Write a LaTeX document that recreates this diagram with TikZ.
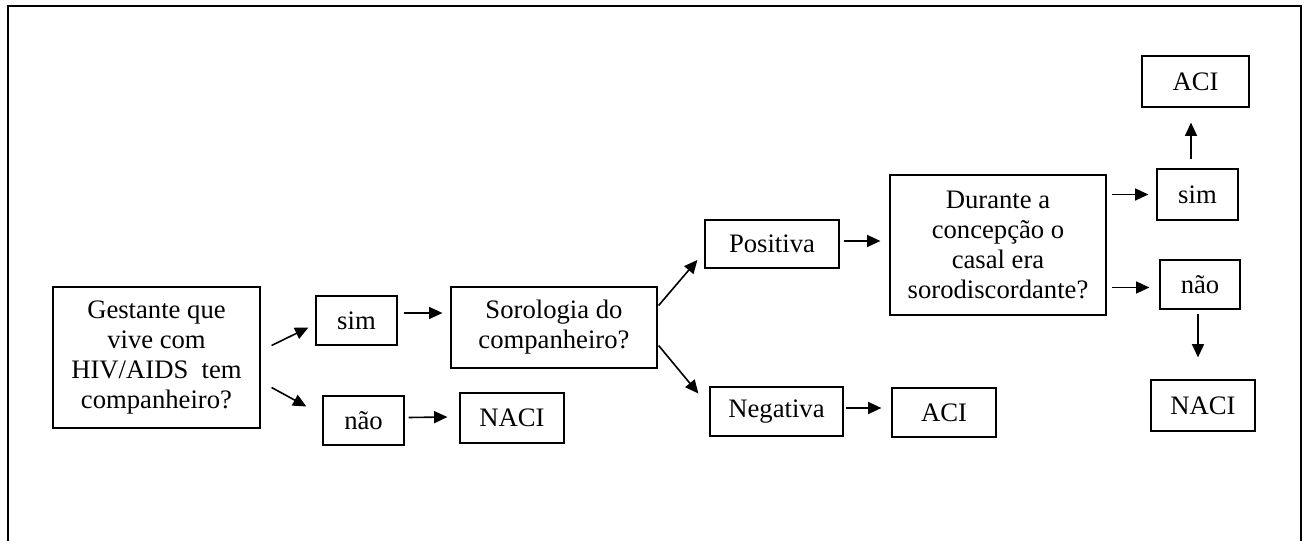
\documentclass[tikz,border=0pt]{standalone}
\usepackage{fontspec}
\setmainfont{Liberation Serif}
\usetikzlibrary{arrows.meta}
\newcommand\flowfont{\fontsize{20pt}{22.5pt}\selectfont}
\tikzset{
  box/.style 2 args={draw, line width=0.9pt, inner sep=0pt, align=center,
    minimum width=#1*0.75pt, minimum height=#2*0.75pt, font=\flowfont},
  arr/.style={line width=1.2pt, -{Triangle[length=10pt,width=9pt]}},
}
\begin{document}
\begin{tikzpicture}[x=0.75pt, y=-0.75pt]
\useasboundingbox (0,0) rectangle (1304,541);
% outer frame, open at the bottom
\begin{scope}
\clip (0,0) rectangle (1304,541);
\draw[line width=1.6pt] (8,560) -- (8,6) -- (1301,6) -- (1301,560);
\end{scope}

% boxes
\node[box={207}{141}] (g) at (156.5,357.5) {Gestante que\\vive com\\HIV/AIDS\ \ tem\\companheiro?};
\node[box={81}{49}] (sim1) at (356.5,320.5) {sim};
\node[box={81}{49}] (nao1) at (363.5,420.5) {não};
\node[box={104}{50}] (naci1) at (512,418) {NACI};
\node[box={206}{81}] (soro) at (554,327.5) {Sorologia do\\companheiro?};
\node[box={134}{48}] (pos) at (772,244) {Positiva};
\node[box={133}{49}] (neg) at (776.5,411.5) {Negativa};
\node[box={104}{49}] (aci1) at (944,412.5) {ACI};
\node[box={216}{140}] (dur) at (998,245) {Durante a\\concepção o\\casal era\\sorodiscordante?};
\node[box={107}{51}] (aci2) at (1195.5,81.5) {ACI};
\node[box={81}{51}] (sim2) at (1197.5,194.5) {sim};
\node[box={80}{49}] (nao2) at (1200,284.5) {não};
\node[box={104}{51}] (naci2) at (1203,405.5) {NACI};

% connectors
\draw[arr] ([shift={(11,-12)}]g.east) -- ([shift={(-7,7)}]sim1.west);
\draw[arr] ([shift={(11,30)}]g.east) -- ([shift={(-16,-14)}]nao1.west);
\draw[arr] ([shift={(6,-7.5)}]sim1.east) -- ([shift={(-8,-14.5)}]soro.west);
\draw[arr] ([shift={(4,-3)}]nao1.east) -- ([shift={(-12,-1)}]naci1.west);
\draw[arr] ([shift={(1,-22)}]soro.east) -- ([shift={(-7,16)}]pos.west);
\draw[arr] ([shift={(1,18)}]soro.east) -- ([shift={(-11,-18)}]neg.west);
\draw[arr] ([shift={(4,-3)}]pos.east) -- ([shift={(-9,-4)}]dur.west);
\draw[arr] ([shift={(2,-3.5)}]neg.east) -- ([shift={(-10,-4.5)}]aci1.west);
\draw[arr] ([shift={(5,-50.5)}]dur.east) -- ([shift={(-8,0)}]sim2.west);
\draw[arr] ([shift={(5,42.5)}]dur.east) -- ([shift={(-10,3)}]nao2.west);
\draw[arr] ([shift={(-6.5,-9)}]sim2.north) -- ([shift={(-4.5,15)}]aci2.south);
\draw[arr] ([shift={(-2,4)}]nao2.south) -- ([shift={(-5,-22)}]naci2.north);
\end{tikzpicture}
\end{document}
